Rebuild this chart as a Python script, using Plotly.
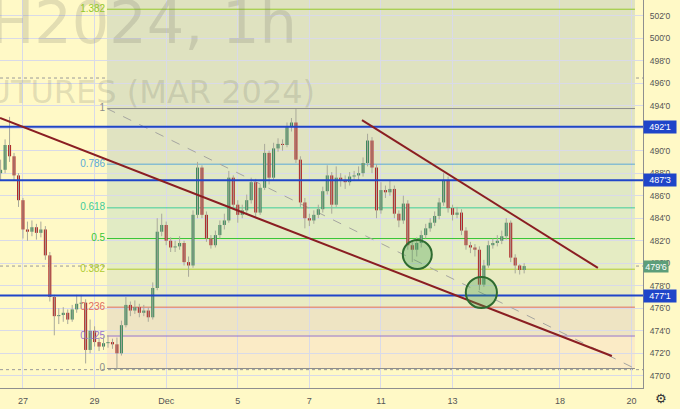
import plotly.graph_objects as go

# ---------------- data ----------------
OPEN_FIRST = 488.0
CLOSE = [488.3, 490.5, 489.5, 487.8, 485.6, 483.0, 482.8, 483.2, 482.7, 483.0,
         480.7, 477.0, 475.3, 475.4, 475.6, 475.0, 475.9, 476.4, 476.5, 472.3,
         474.0, 473.0, 472.6, 472.9, 473.0, 472.8, 472.0, 474.5, 476.3, 475.8,
         476.1, 475.6, 475.8, 475.2, 477.8, 482.8, 483.4, 482.0, 481.4, 481.5,
         481.8, 480.1, 479.8, 484.3, 488.5, 484.3, 482.2, 481.6, 482.5, 483.4,
         483.8, 487.6, 485.2, 484.3, 484.7, 485.6, 487.2, 484.5, 486.7, 489.8,
         487.6, 490.2, 490.6, 490.5, 492.1, 492.5, 489.2, 485.4, 484.0, 483.8,
         484.3, 484.8, 486.4, 487.8, 485.2, 487.6, 487.4, 487.2, 487.7, 487.8,
         488.0, 488.9, 490.9, 488.5, 484.7, 486.5, 486.3, 486.6, 484.4, 483.8,
         485.3, 481.6, 481.2, 481.8, 482.5, 483.1, 483.6, 484.2, 485.4, 487.4,
         484.9, 484.3, 484.5, 482.9, 481.6, 481.4, 481.2, 478.1, 479.8, 481.6,
         481.8, 482.0, 482.4, 483.6, 480.5, 479.8, 479.4, 479.75]
HIGH = [489.2, 491.0, 493.0, 489.8, 488.0, 485.8, 483.7, 483.8, 483.5, 483.7,
        483.3, 481.0, 477.2, 476.0, 476.1, 475.9, 476.3, 477.2, 477.2, 476.8,
        475.0, 474.4, 473.4, 473.5, 473.6, 473.3, 473.4, 474.9, 477.0, 476.6,
        476.7, 476.4, 476.3, 476.1, 478.3, 484.0, 484.4, 483.7, 482.3, 482.0,
        482.4, 482.0, 480.6, 484.7, 489.0, 488.7, 484.6, 482.5, 482.9, 483.8,
        484.4, 488.2, 487.8, 485.6, 485.2, 486.1, 487.6, 487.5, 487.0, 490.6,
        490.0, 490.7, 491.1, 491.0, 492.5, 492.9, 493.7, 489.5, 485.8, 484.4,
        484.7, 485.2, 486.8, 488.7, 488.1, 488.6, 488.0, 487.8, 488.1, 488.2,
        488.6, 489.4, 491.5, 491.2, 488.8, 487.2, 486.9, 487.4, 486.9, 484.7,
        486.0, 485.6, 482.0, 482.3, 482.9, 483.5, 484.0, 484.6, 485.8, 488.0,
        487.7, 485.2, 485.0, 484.8, 483.2, 481.9, 481.7, 481.5, 480.3, 482.0,
        482.2, 482.5, 482.9, 484.0, 483.8, 480.8, 479.9, 480.0]
LOW = [487.4, 488.0, 489.0, 487.3, 485.0, 482.2, 482.0, 482.4, 482.1, 482.3,
       480.3, 476.6, 473.6, 474.6, 474.8, 474.6, 474.8, 475.6, 476.0, 471.1,
       472.0, 472.6, 472.2, 472.3, 472.5, 472.4, 470.65, 471.8, 474.3, 475.3,
       475.5, 475.2, 475.3, 474.8, 475.0, 477.6, 482.4, 481.6, 481.0, 481.0,
       481.2, 479.8, 478.8, 479.6, 484.0, 484.0, 481.9, 481.3, 481.4, 482.2,
       483.0, 483.6, 484.9, 483.6, 484.0, 484.4, 485.3, 484.1, 484.3, 486.5,
       487.0, 487.4, 489.9, 490.0, 490.3, 491.7, 488.9, 485.0, 483.1, 483.3,
       483.5, 484.0, 484.5, 486.1, 484.4, 485.0, 486.8, 486.6, 486.9, 487.3,
       487.4, 487.7, 488.6, 488.0, 484.0, 484.4, 485.8, 486.0, 484.0, 483.2,
       483.5, 481.2, 480.1, 480.6, 481.4, 482.2, 482.8, 483.3, 483.9, 485.1,
       484.5, 483.8, 484.0, 482.5, 481.2, 480.9, 480.6, 477.6, 477.9, 479.6,
       481.3, 481.5, 481.7, 482.1, 480.1, 479.1, 479.0, 479.1]

BAR_START = -0.625   # trading-day index of first bar (0 = Nov 27)
BAR_STEP = 0.125

TICK_DAYS = [0, 2, 4, 6, 8, 10, 12, 15, 17]
TICK_LABELS = ["27", "29", "Dec", "5", "7", "11", "13", "18", "20"]
PRICE_TICKS = list(range(470, 503, 2))
PRICE_TICK_TEXT = [f"{p}'0" for p in PRICE_TICKS]

FIB_LEVELS = [0, 0.125, 0.236, 0.382, 0.5, 0.618, 0.786, 1, 1.382]
FIB_LABELS = ["0", "0.125", "0.236", "0.382", "0.5", "0.618", "0.786", "1", "1.382"]
FIB_LOW, FIB_HIGH = 470.65, 493.74
FIB_START, FIB_END = 2.346, 17.095

LEVELS = [492.125, 487.375, 477.125]
LEVEL_TEXT = ["492'1", "487'3", "477'1"]
LAST_PRICE, LAST_TEXT = 479.75, "479'6"
DOTTED_LEVELS = [496.45, LAST_PRICE, 470.55]

TREND_LINES = [((-0.642, 492.9), (16.45, 471.76)),
               ((9.47, 492.72), (16.06, 479.58))]
CIRCLES = [((10.61, 479.49), (11.42, 482.06)),
           ((12.37, 476.02), (13.24, 478.78))]

# ---------------- styles ----------------
BG = "#FFF9C6"
GRID = "#D9DAE8"
FIB_LINE_COLORS = ["#8C8C8C", "#9575CD", "#E06C5E", "#AECB30", "#36C636",
                   "#3ECB9B", "#5AAAD8", "#8C8C8C", "#93C82C"]
FIB_ZONE_COLORS = ["#FBEBC6", "#EEE4C3", "#E9EBC3", "#E5ECC3", "#E1EBC4",
                   "#E0E8C4", "#E0E3C1", "#DFE2C0"]
UP, DOWN, WICK = "#3F8A5E", "#B02A2A", "#A9A99A"
BLUE = "#1F45C9"
MAROON = "#8A1E22"

n = len(CLOSE)
xs = [BAR_START + i * BAR_STEP for i in range(n)]
opens = [OPEN_FIRST] + CLOSE[:-1]

fig = go.Figure()

# fib zones
levels_price = [FIB_LOW + (FIB_HIGH - FIB_LOW) * l for l in FIB_LEVELS]
for k in range(len(FIB_LEVELS) - 1):
    fig.add_shape(type="rect", xref="x", yref="y", x0=FIB_START, x1=FIB_END,
                  y0=levels_price[k], y1=levels_price[k + 1],
                  fillcolor=FIB_ZONE_COLORS[k], line_width=0, layer="below")
fig.add_shape(type="rect", xref="x", yref="y", x0=FIB_START, x1=FIB_END,
              y0=levels_price[-1], y1=510, fillcolor=FIB_ZONE_COLORS[-1],
              line_width=0, layer="below")
for p, c in zip(levels_price, FIB_LINE_COLORS):
    fig.add_shape(type="line", xref="x", yref="y", x0=FIB_START, x1=FIB_END,
                  y0=p, y1=p, line=dict(color=c, width=1), layer="between")

# dotted levels
for p in DOTTED_LEVELS:
    fig.add_shape(type="line", xref="paper", yref="y", x0=0, x1=1, y0=p, y1=p,
                  line=dict(color="#9A9A9A", width=1, dash="dot"), layer="between")

# fib diagonal
fig.add_shape(type="line", xref="x", yref="y", x0=FIB_START, y0=FIB_HIGH,
              x1=FIB_END, y1=FIB_LOW,
              line=dict(color="#A5A5A0", width=1, dash="dash"), layer="between")

# watermark
fig.add_trace(go.Scatter(x=[7.65], y=[500.9], mode="text", text=["ZCH2024, 1h"],
                         textposition="middle left",
                         textfont=dict(family="DejaVu Sans", size=59,
                                       color="rgba(110,110,100,0.20)"),
                         hoverinfo="skip"))
fig.add_trace(go.Scatter(x=[8.16], y=[494.9], mode="text",
                         text=["CORN FUTURES (MAR 2024)"],
                         textposition="middle left",
                         textfont=dict(family="DejaVu Sans", size=32,
                                       color="rgba(110,110,100,0.20)"),
                         hoverinfo="skip"))

# fib labels
fig.add_trace(go.Scatter(x=[FIB_START - 0.05] * len(FIB_LEVELS), y=levels_price,
                         mode="text", text=FIB_LABELS, textposition="middle left",
                         textfont=dict(family="Liberation Sans", size=10,
                                       color=FIB_LINE_COLORS),
                         hoverinfo="skip"))

# wicks
wx, wy = [], []
for x, h, l in zip(xs, HIGH, LOW):
    wx += [x, x, None]
    wy += [l, h, None]
fig.add_trace(go.Scatter(x=wx, y=wy, mode="lines",
                         line=dict(color=WICK, width=1), hoverinfo="skip"))

# bodies
bases = [min(o, c) for o, c in zip(opens, CLOSE)]
heights = [max(abs(c - o), 0.09) for o, c in zip(opens, CLOSE)]
colors = [UP if c >= o else DOWN for o, c in zip(opens, CLOSE)]
fig.add_trace(go.Bar(x=xs, y=heights, base=bases, width=0.085,
                     marker=dict(color=colors, line_width=0), hoverinfo="skip"))

# blue horizontal levels
for p in LEVELS:
    fig.add_shape(type="line", xref="paper", yref="y", x0=0, x1=1, y0=p, y1=p,
                  line=dict(color=BLUE, width=2), layer="above")

# trend lines
for (x0, y0), (x1, y1) in TREND_LINES:
    fig.add_shape(type="line", xref="x", yref="y", x0=x0, y0=y0, x1=x1, y1=y1,
                  line=dict(color=MAROON, width=2), layer="above")

# circles
for (x0, y0), (x1, y1) in CIRCLES:
    fig.add_shape(type="circle", xref="x", yref="y", x0=x0, y0=y0, x1=x1, y1=y1,
                  fillcolor="rgba(70,160,80,0.33)",
                  line=dict(color="#2E6B30", width=2), layer="above")

annotations = []
for p, t in zip(LEVELS, LEVEL_TEXT):
    annotations.append(dict(xref="paper", yref="y", x=1, y=p, xanchor="left",
                            text=t, showarrow=False, bgcolor=BLUE,
                            font=dict(family="Liberation Sans", size=9, color="white"),
                            width=32, height=12, borderpad=0))
annotations.append(dict(xref="paper", yref="y", x=1, y=LAST_PRICE, xanchor="left",
                        text=LAST_TEXT, showarrow=False, bgcolor="#5C9E7A",
                        font=dict(family="Liberation Sans", size=9, color="white"),
                        width=24, height=11, borderpad=0))
annotations.append(dict(xref="paper", yref="paper", x=1.028, y=-0.027,
                        xanchor="center", yanchor="middle", text="⚙",
                        showarrow=False,
                        font=dict(family="DejaVu Sans", size=13, color="#333")))

fig.update_layout(
    width=680, height=409,
    margin=dict(l=0, r=37, t=0, b=21),
    paper_bgcolor=BG, plot_bgcolor=BG,
    showlegend=False, barmode="overlay", hovermode=False,
    annotations=annotations,
    xaxis=dict(range=[-0.642, 17.32], tickvals=TICK_DAYS, ticktext=TICK_LABELS,
               showgrid=True, gridcolor=GRID, gridwidth=1, zeroline=False,
               showline=True, linecolor="#8F8F8F", linewidth=1, ticks="",
               tickfont=dict(family="Liberation Sans", size=9, color="#555"),
               ticklabelstandoff=4, fixedrange=True),
    yaxis=dict(side="right", range=[468.92, 503.38], tickvals=PRICE_TICKS,
               ticktext=PRICE_TICK_TEXT, showgrid=True, gridcolor=GRID,
               gridwidth=1, zeroline=False, showline=True, linecolor="#8F8F8F",
               linewidth=1, ticks="",
               tickfont=dict(family="Liberation Sans", size=8.5, color="#555"),
               ticklabelstandoff=4, fixedrange=True),
)

fig.write_html("out.html",
               config={"displayModeBar": False, "staticPlot": True},
               post_script="document.body.style.margin='0px';"
                           "document.body.style.overflow='hidden';")
